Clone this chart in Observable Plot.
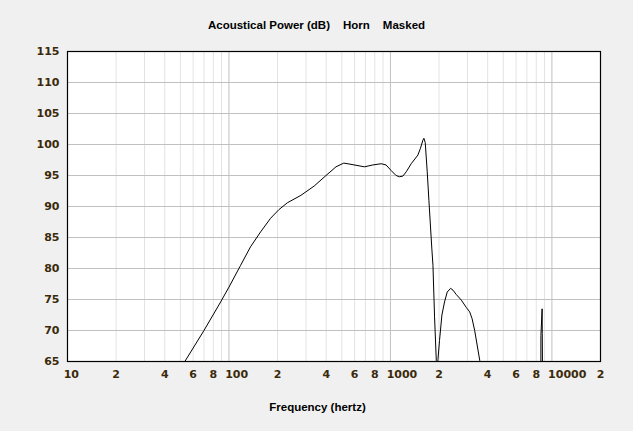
<!DOCTYPE html>
<html>
<head>
<meta charset="utf-8">
<script src="https://cdn.jsdelivr.net/npm/d3@7"></script>
<script src="https://cdn.jsdelivr.net/npm/@observablehq/plot@0.6"></script>
<style>
  html, body { margin: 0; padding: 0; background: #f0f0f0; }
  #wrap { width: 633px; height: 431px; position: relative; overflow: hidden; }
  .title { height: 40px; display: flex; justify-content: center; align-items: center; gap: 13px;
           font-family: "Liberation Sans", Arial, sans-serif; font-size: 11.5px; font-weight: bold; color: #000; padding-top: 10px; box-sizing: border-box; }
  .xlabel { height: 40px; text-align: center; font-family: "Liberation Sans", Arial, sans-serif;
            font-size: 11.5px; font-weight: bold; color: #000; line-height: 32px; padding-left: 2px; }
  svg { display: block; }
</style>
</head>
<body>
<div id="wrap">
  <div class="title"><span>Acoustical Power (dB)</span><span>Horn</span><span>Masked</span></div>
  <div id="chart"></div>
  <div class="xlabel">Frequency (hertz)</div>
</div>
<script>
// Frequency (Hz) and acoustical power (dB)
const freqs = [50, 53.3, 70, 88.8, 100, 118, 136, 157, 181, 204, 230, 279, 337, 399, 460, 514, 570, 690, 778, 876, 940, 1010, 1084, 1137, 1194, 1253, 1345, 1480, 1535, 1589, 1612, 1643, 1690, 1731, 1807, 1834, 1876, 1923, 1945, 1969, 2014, 2084, 2163, 2248, 2358, 2441, 2559, 2749, 2953, 3097, 3205, 3325, 3573, 3650, 8540, 8551, 8700, 8715, 8790];
const powerDb = [63.8, 65.0, 70.0, 74.6, 77.0, 80.5, 83.5, 85.9, 88.1, 89.5, 90.6, 91.8, 93.3, 95.0, 96.4, 97.0, 96.8, 96.4, 96.7, 96.9, 96.7, 95.8, 95.0, 94.8, 94.9, 95.6, 96.9, 98.3, 99.4, 100.7, 101.0, 100.3, 95.6, 91.0, 83.0, 80.5, 72.2, 65.2, 62.0, 65.3, 68.4, 72.5, 74.6, 76.2, 76.8, 76.5, 75.8, 74.9, 73.7, 73.0, 71.9, 70.0, 65.2, 63.5, 55.0, 69.2, 73.5, 69.5, 55.0];

const xTickValues = [10, 20, 40, 60, 80, 100, 200, 400, 600, 800, 1000, 2000, 4000, 6000, 8000, 10000, 20000];
const xTickLabels = ["10", "2", "4", "6", "8", "100", "2", "4", "6", "8", "1000", "2", "4", "6", "8", "10000", "2"];
const xMajorGrid = [100, 1000, 10000];
const xMinorGrid = [20, 30, 40, 50, 60, 70, 80, 90, 200, 300, 400, 500, 600, 700, 800, 900, 2000, 3000, 4000, 5000, 6000, 7000, 8000, 9000];
const yTicks = [65, 70, 75, 80, 85, 90, 95, 100, 105, 110, 115];

const data = freqs.map((f, i) => ({f, db: powerDb[i]}));
const xTicks = xTickValues.map((v, i) => ({v, label: xTickLabels[i]}));

const chart = Plot.plot({
  width: 633,
  height: 351,
  marginLeft: 67,
  marginRight: 33,
  marginTop: 11,
  marginBottom: 30,
  style: {background: "#f0f0f0", fontFamily: "DejaVu Sans, sans-serif", fontSize: "11px", fontWeight: "bold", color: "#3b2a0a"},
  x: {type: "log", domain: [10, 20000], axis: null},
  y: {domain: [65, 115]},
  marks: [
    Plot.frame({fill: "white", stroke: null}),
    Plot.ruleX(xMinorGrid, {stroke: "#e3e3e3", strokeOpacity: 1}),
    Plot.ruleX(xMajorGrid, {stroke: "#c0c0c0", strokeOpacity: 1}),
    Plot.ruleY(yTicks, {stroke: "#c0c0c0", strokeOpacity: 1}),
    Plot.line(data, {x: "f", y: "db", stroke: "black", strokeWidth: 1, clip: true}),
    Plot.frame({stroke: "black", strokeWidth: 1.2}),
    Plot.text(xTicks, {x: "v", text: "label", frameAnchor: "bottom", dy: 16, dx: -3.8, textAnchor: "start", fill: "currentColor", fontSize: 11, fontWeight: "bold"}),
    Plot.axisY(yTicks, {tickSize: 0, tickPadding: 8, label: null})
  ]
});
document.getElementById("chart").appendChild(chart);
</script>
</body>
</html>
